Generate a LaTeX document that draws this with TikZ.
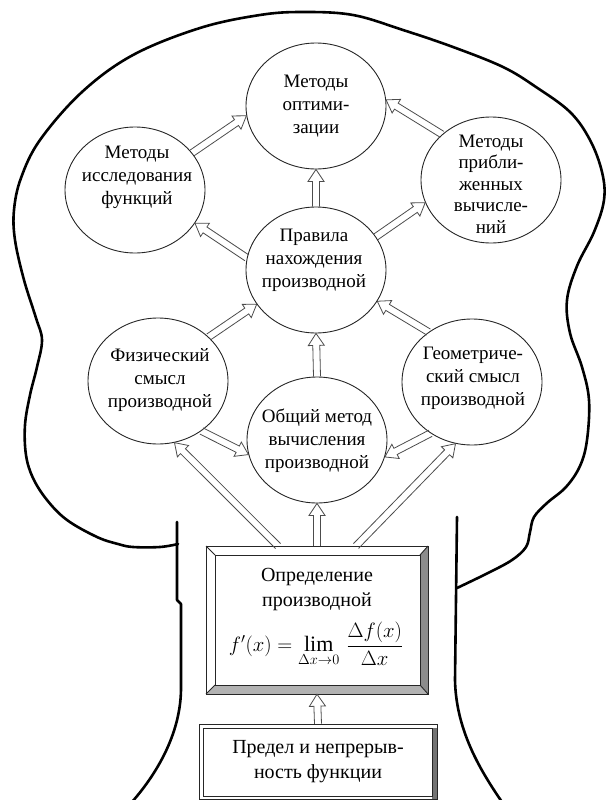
\documentclass[tikz,border=0pt]{standalone}
\usepackage{amsmath}
\usepackage{fontspec}
\setmainfont{Liberation Serif}
\usetikzlibrary{shapes.geometric,calc}

\tikzset{
  circ/.style={ellipse, draw=black!85, line width=0.9pt, minimum width=140pt, minimum height=126pt, inner sep=0pt},
  txt/.style={align=center, font=\fontsize{19}{23}\selectfont, inner sep=0pt},
  btxt/.style={align=center, font=\fontsize{20}{25}\selectfont, inner sep=0pt},
  blk/.style={draw=black!70, line width=0.8pt, line join=miter},
  outline/.style={draw=black, line width=2.6pt, line cap=round, line join=round},
  frame/.style={draw=black!85, line width=0.9pt},
}

\newcommand\barrow[2]{%
  \coordinate (ba) at (#1);
  \coordinate (bb) at (#2);
  \coordinate (bm) at ($(bb)!12pt!(ba)$);
  \draw[blk] ($(ba)!3.5pt!90:(bb)$) -- ($(bm)!3.5pt!-90:(ba)$) -- ($(bm)!8pt!-90:(ba)$) -- (bb)
     -- ($(bm)!8pt!90:(ba)$) -- ($(bm)!3.5pt!90:(ba)$) -- ($(ba)!3.5pt!-90:(bb)$);
}

\begin{document}
\begin{tikzpicture}[x=1pt,y=-1pt]
\useasboundingbox (0,0) rectangle (606,800);

% tree outline
\draw[outline] plot[smooth, tension=0.6] coordinates {
 (178,544) (160,547) (133,547) (118,544) (97,537) (67,520) (47,500) (33,478) (26,455)
 (25,425) (30,395) (37,367) (42,340) (36,318) (24,280) (15,240) (14,210) (21,178)
 (40,140) (82,92) (133,55) (200,28) (260,15) (303,12) (353,15) (403,30) (453,47)
 (503,67) (536,87) (570,112) (590,140) (602,172) (604,200) (594,232) (577,266)
 (567,300) (570,333) (582,367) (589,400) (587,440) (580,466) (566,487) (547,503)
 (534,517) (530,532) (526,547) (512,560) (488,573) (457,588)};
\draw[outline] (177,522) -- (177,600) -- (181,604) -- (181,688)
   .. controls (181,730) and (160,770) .. (132,802);
\draw[outline] (457,517) -- (455,680) .. controls (456,730) and (480,770) .. (502,802);

% circles
\node[circ] (opt)   at (316,106) {};
\node[circ] (issl)  at (135,190) {};
\node[circ] (pribl) at (491,180) {};
\node[circ] (prav)  at (316,270) {};
\node[circ] (fiz)   at (158,381) {};
\node[circ] (geom)  at (472,382) {};
\node[circ] (obsh)  at (317,440) {};

\node[txt] (opt-t)   at (316,106) {Методы\\оптими-\\зации};
\node[txt] (issl-t)  at (137,177) {Методы\\исследования\\функций};
\node[txt, font=\fontsize{19}{21.5}\selectfont] (pribl-t) at (491,184) {Методы\\прибли-\\женных\\вычисле-\\ний};
\node[txt] (prav-t)  at (314,260) {Правила\\нахождения\\производной};
\node[txt] (fiz-t)   at (160,380) {Физический\\смысл\\производной};
\node[txt] (geom-t)  at (473,378) {Геометриче-\\ский смысл\\производной};
\node[txt] (obsh-t)  at (317,441) {Общий метод\\вычисления\\производной};

% definition box (bevelled)
\node[minimum width=222pt, minimum height=148pt, inner sep=0pt] (def) at (317,620) {};
\fill[black!45] (428,546) -- (428,694) -- (420,685) -- (420,555) -- cycle;
\fill[black!30] (206,694) -- (428,694) -- (420,685) -- (215,685) -- cycle;
\draw[frame] (206,546) rectangle (428,694);
\draw[frame] (215,555) rectangle (420,685);
\draw[frame] (206,546) -- (215,555) (428,546) -- (420,555) (206,694) -- (215,685) (428,694) -- (420,685);
\node[btxt] (def-t) at (317,590) {Определение\\производной};
\node[inner sep=0pt, font=\fontsize{22}{26}\selectfont] (def-f) at (316,644)
  {$f'(x)=\lim\limits_{\Delta x\to 0}\,\dfrac{\Delta f(x)}{\Delta x}$};

% limit box
\node[minimum width=238pt, minimum height=76pt, inner sep=0pt] (lim) at (318,762) {};
\fill[black!55] (432,728) rectangle (437,800);
\draw[frame] (199,724) rectangle (437,799.5);
\draw[frame] (203,728) rectangle (432,796);
\node[btxt] (lim-t) at (318,762) {Предел и непрерыв-\\ность функции};

% connectors
\coordinate (d1) at (278,546);
\coordinate (d2) at (356,546);
\barrow{issl.33}{opt.188}
\barrow{pribl.137}{opt.5}
\barrow{prav.north}{opt.south}
\barrow{prav.170}{issl.331}
\barrow{prav.29}{pribl.199}
\barrow{fiz.41}{prav.210}
\barrow{geom.131}{prav.333}
\barrow{obsh.north}{prav.south}
\barrow{fiz.311}{obsh.192}
\barrow{geom.231}{obsh.346}
\barrow{d1}{fiz.285}
\barrow{d2}{geom.255}
\barrow{def.north}{obsh.south}
\barrow{lim.north}{def.south}
\end{tikzpicture}
\end{document}
